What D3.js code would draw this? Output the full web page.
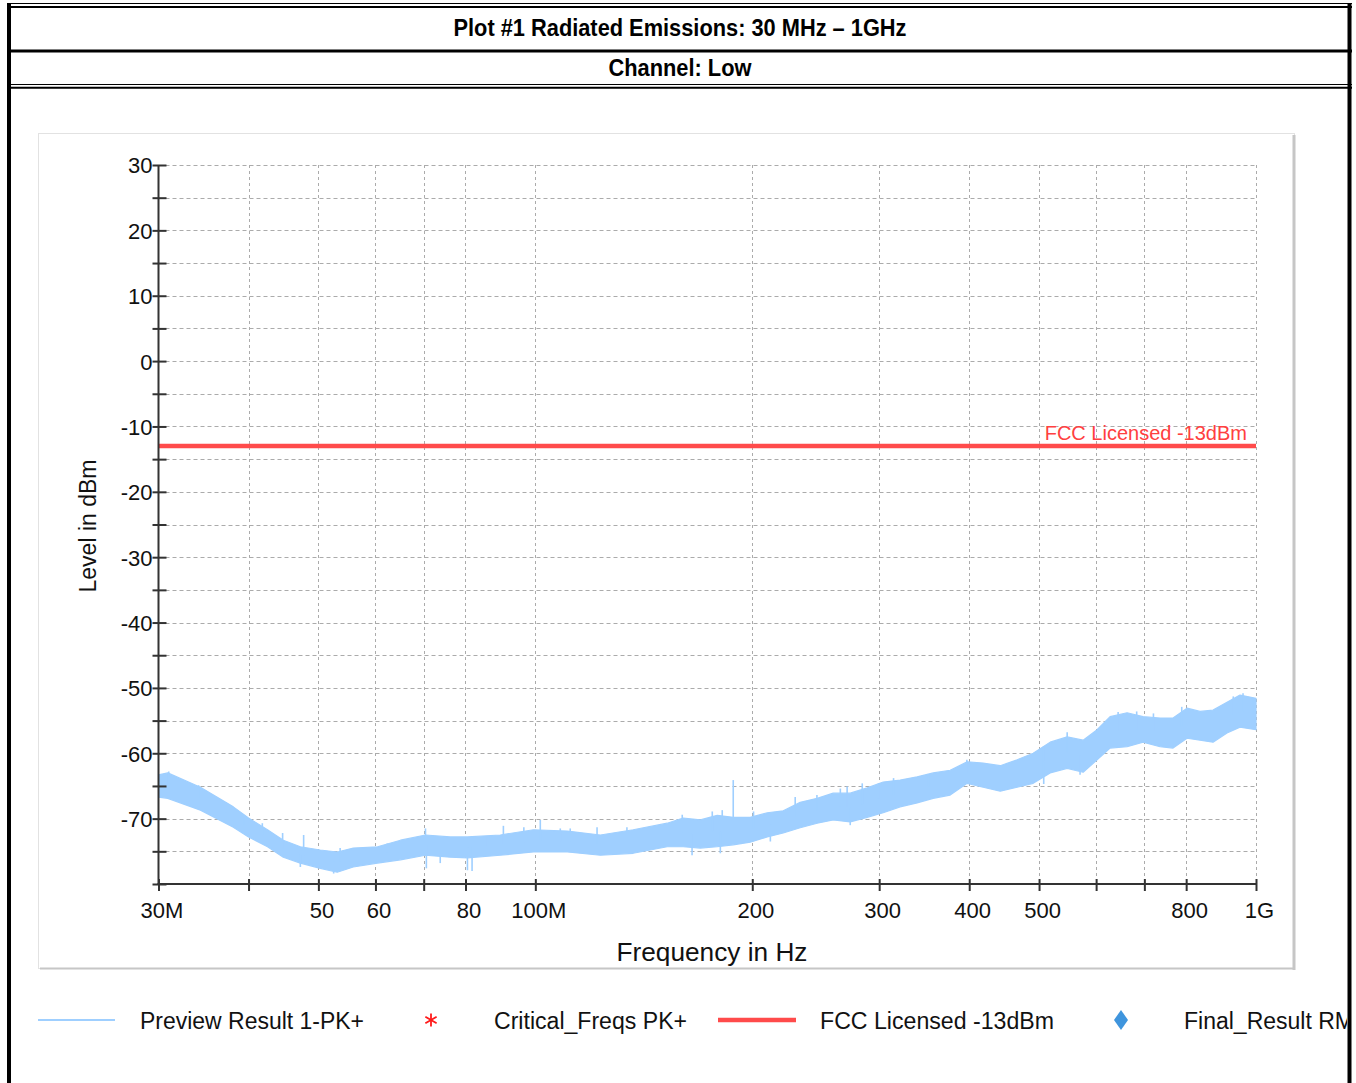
<!DOCTYPE html>
<html><head><meta charset="utf-8">
<script src="https://cdn.jsdelivr.net/npm/d3@7"></script>
<style>
html,body{margin:0;padding:0;background:#fff;}
svg{display:block;}
text{font-family:"Liberation Sans",Arial,Helvetica,sans-serif;}
</style></head>
<body>
<svg id="c" width="1356" height="1083"></svg>
<script>
// ---------- data ----------
const title = "Plot #1 Radiated Emissions: 30 MHz \u2013 1GHz";
const subtitle = "Channel: Low";
const yLabel = "Level in dBm";
const xLabel = "Frequency in Hz";

// Preview Result 1-PK+ trace: frequency (MHz) with upper / lower envelope of the noisy trace (dBm)
const freqMHz = [30, 30.9, 34.3, 38.1, 40.0, 42.5, 44.7, 47.2, 50.3, 53.1, 55.9, 60.4, 65.0, 70.4, 76.2, 80.5, 89.4, 99.4, 110.8, 123.1, 136.7, 152.4, 160.4, 169.4, 178.8, 188.2, 198.7, 209.8, 220.8, 233.1, 246.1, 259.0, 273.5, 288.7, 303.9, 320.8, 338.7, 356.5, 376.4, 397.4, 418.2, 441.7, 466.2, 490.7, 518.1, 547.0, 575.6, 601.9, 627.4, 662.4, 697.1, 736.0, 767.2, 802.2, 836.2, 871.7, 911.5, 950.2, 1000];
const upperDb = [-63.3, -63.0, -65.2, -68.2, -69.9, -71.7, -73.3, -74.3, -74.8, -75.1, -74.5, -74.3, -73.3, -72.5, -72.8, -72.8, -72.5, -71.7, -71.9, -72.5, -71.7, -70.7, -69.9, -70.2, -69.5, -69.8, -69.8, -69.1, -68.8, -67.5, -66.9, -66.1, -66.1, -65.3, -64.4, -64.1, -63.6, -63.0, -62.6, -61.3, -61.5, -61.9, -61.0, -60.0, -58.3, -57.5, -58.0, -56.4, -54.4, -53.8, -54.4, -54.6, -54.6, -53.1, -53.6, -53.4, -52.2, -51.1, -51.6];
const lowerDb = [-66.7, -66.9, -68.7, -71.3, -72.8, -74.3, -75.9, -76.8, -77.6, -78.2, -77.4, -76.8, -76.3, -75.6, -75.9, -76.0, -75.6, -75.1, -75.1, -75.6, -75.3, -74.3, -74.3, -74.5, -74.3, -74.0, -73.6, -72.8, -72.2, -71.4, -70.7, -70.2, -70.5, -69.8, -69.1, -68.2, -67.6, -66.9, -66.4, -64.6, -65.2, -65.8, -65.2, -64.6, -63.0, -62.3, -62.9, -61.0, -59.2, -59.0, -58.3, -59.0, -59.2, -57.7, -58.0, -58.3, -56.9, -56.0, -56.4];
// isolated spikes of the trace poking out of the band (MHz, dBm)
const spikeFreq = [31.0, 34.1, 37.2, 39.4, 41.8, 44.6, 47.2, 47.7, 52.5, 53.6, 62.3, 67.4, 70.4, 70.6, 73.8, 80.5, 81.7, 85.7, 90.3, 96.4, 101.6, 108.3, 111.8, 121.8, 134.0, 159.9, 165.0, 176.0, 180.6, 181.7, 188.2, 200.8, 211.9, 229.4, 245.9, 265.0, 270.8, 273.5, 284.2, 299.4, 314.1, 351.3, 397.0, 507.0, 507.5, 547.0, 570.0, 643.7, 683.0, 720.6, 788.8, 930.0, 959.4, 990.0];
const spikeDb   = [-62.8, -64.9, -67.5, -69.8, -70.7, -72.2, -77.4, -72.5, -78.4, -74.5, -73.8, -73.0, -71.5, -77.6, -76.8, -77.9, -78.0, -72.8, -71.1, -71.3, -70.2, -71.5, -71.5, -71.3, -71.3, -69.4, -75.6, -68.9, -75.3, -68.7, -64.1, -68.9, -73.5, -66.7, -66.4, -65.4, -65.1, -71.0, -64.6, -64.6, -63.8, -63.2, -61.0, -59.0, -64.7, -56.8, -63.3, -53.7, -53.6, -53.9, -52.9, -51.3, -50.8, -51.5];

// Limit line
const limitDb = -13;
const limitLabel = "FCC Licensed -13dBm";

// Axis ticks
const yTicks = [-80, -75, -70, -65, -60, -55, -50, -45, -40, -35, -30, -25, -20, -15, -10, -5, 0, 5, 10, 15, 20, 25, 30];
const yTickLabels = [-70, -60, -50, -40, -30, -20, -10, 0, 10, 20, 30];
const xTicks = [30, 40, 50, 60, 70, 80, 100, 200, 300, 400, 500, 600, 700, 800, 1000];
const xTickLabelValues = [30, 50, 60, 80, 100, 200, 300, 400, 500, 800, 1000];
const xTickLabelTexts  = ["30M", "50", "60", "80", "100M", "200", "300", "400", "500", "800", "1G"];

// Legend
const legendNames = ["Preview Result 1-PK+", "Critical_Freqs PK+", "FCC Licensed -13dBm", "Final_Result RMS"];

// ---------- drawing ----------
const svg = d3.select("#c");
svg.append("rect").attr("width",1356).attr("height",1083).attr("fill","#fff");

// outer frame / table
const frame = svg.append("g").attr("stroke","#000").attr("fill","none");
frame.append("line").attr("x1",7).attr("x2",1352).attr("y1",3.5).attr("y2",3.5).attr("stroke-width",1);
frame.append("line").attr("x1",7).attr("x2",1352).attr("y1",7).attr("y2",7).attr("stroke-width",2);
frame.append("line").attr("x1",7).attr("x2",1352).attr("y1",51).attr("y2",51).attr("stroke-width",3);
frame.append("line").attr("x1",7).attr("x2",1352).attr("y1",84.5).attr("y2",84.5).attr("stroke-width",1);
frame.append("line").attr("x1",7).attr("x2",1352).attr("y1",87.8).attr("y2",87.8).attr("stroke-width",2);
frame.append("line").attr("x1",9).attr("x2",9).attr("y1",3).attr("y2",1083).attr("stroke-width",4);
frame.append("line").attr("x1",1349.5).attr("x2",1349.5).attr("y1",3).attr("y2",1083).attr("stroke-width",4);

const narrow = '"Liberation Sans Narrow","Arial Narrow","Liberation Sans",Arial,sans-serif';
svg.append("text").text(title).attr("x",680).attr("y",36).attr("text-anchor","middle")
  .style("font-family",narrow).attr("font-weight","bold").attr("font-size",23)
  .attr("textLength",453).attr("lengthAdjust","spacingAndGlyphs");
svg.append("text").text(subtitle).attr("x",680).attr("y",75.5).attr("text-anchor","middle")
  .style("font-family",narrow).attr("font-weight","bold").attr("font-size",23)
  .attr("textLength",143).attr("lengthAdjust","spacingAndGlyphs");

// chart panel
svg.append("rect").attr("x",38.5).attr("y",133.5).attr("width",1256).attr("height",835)
  .attr("fill","#fff").attr("stroke","#e2e2e2").attr("stroke-width",1);
svg.append("line").attr("x1",1294).attr("x2",1294).attr("y1",135).attr("y2",970).attr("stroke","#c6c6c6").attr("stroke-width",3);
svg.append("line").attr("x1",40).attr("x2",1295).attr("y1",968.5).attr("y2",968.5).attr("stroke","#c6c6c6").attr("stroke-width",2);

const x0 = 158.5, x1 = 1256, yTop = 165, yBot = 884;
const x = d3.scaleLog().domain([30,1000]).range([x0,x1]);
const y = d3.scaleLinear().domain([-80,30]).range([yBot,yTop]);

// grid
const grid = svg.append("g").attr("stroke","#ababab").attr("stroke-width",1).attr("fill","none");
grid.selectAll("line.h").data(yTicks.filter(d=>d>-80)).join("line").attr("class","h")
  .attr("x1",x0).attr("x2",x1).attr("y1",d=>Math.round(y(d))+0.5).attr("y2",d=>Math.round(y(d))+0.5)
  .attr("stroke-dasharray","4,3");
grid.selectAll("line.v").data(xTicks.filter(d=>d>30)).join("line").attr("class","v")
  .attr("x1",d=>Math.round(x(d))+0.5).attr("x2",d=>Math.round(x(d))+0.5).attr("y1",yTop).attr("y2",yBot)
  .attr("stroke-dasharray","3,3");

// clip for data
svg.append("clipPath").attr("id","plotclip").append("rect")
  .attr("x",x0).attr("y",yTop).attr("width",x1-x0+1).attr("height",yBot-yTop);
const dataG = svg.append("g").attr("clip-path","url(#plotclip)");

const trace = freqMHz.map((f,i)=>({f, hi:upperDb[i], lo:lowerDb[i]}));
const area = d3.area().x(d=>x(d.f)).y0(d=>y(d.lo)).y1(d=>y(d.hi));
dataG.append("path").datum(trace).attr("d",area)
  .attr("fill","#9fcfff").attr("stroke","#9fcfff").attr("stroke-width",1.2).attr("stroke-linejoin","round");

const spikes = spikeFreq.map((f,i)=>({f, v:spikeDb[i]}));
const mid = d3.scaleLinear().domain(freqMHz).range(freqMHz.map((f,i)=>(upperDb[i]+lowerDb[i])/2));
dataG.selectAll("line.sp").data(spikes).join("line").attr("class","sp")
  .attr("x1",d=>x(d.f)).attr("x2",d=>x(d.f))
  .attr("y1",d=>y(mid(d.f))).attr("y2",d=>y(d.v))
  .attr("stroke","#9fcfff").attr("stroke-width",1.6);

// limit line
svg.append("line").attr("x1",x0).attr("x2",x1).attr("y1",y(limitDb)).attr("y2",y(limitDb))
  .attr("stroke","#ff4b4b").attr("stroke-width",4.5);
svg.append("text").text(limitLabel).attr("x",1247).attr("y",440).attr("text-anchor","end")
  .attr("font-size",20).attr("fill","#ff4040");

// axes
const yAxis = d3.axisLeft(y).tickValues(yTicks)
  .tickFormat(d => yTickLabels.includes(d) ? String(d) : "").tickSizeOuter(0);
const gy = svg.append("g").attr("transform",`translate(${x0},0)`).call(yAxis);
gy.select(".domain").attr("stroke","#333").attr("stroke-width",2).attr("d",`M0,${yTop}V${yBot}`);
gy.selectAll(".tick line").attr("x1",8).attr("x2",-6).attr("stroke","#333").attr("stroke-width",2);
gy.selectAll(".tick text").attr("x",-6).attr("dy","0.36em").attr("font-size",22).attr("fill","#111")
  .style("font-family",'"Liberation Sans",Arial,sans-serif');

const xAxis = d3.axisBottom(x).tickValues(xTicks)
  .tickFormat(d => { const k = xTickLabelValues.indexOf(d); return k>=0 ? xTickLabelTexts[k] : ""; })
  .tickSizeOuter(0);
const gx = svg.append("g").attr("transform",`translate(0,${yBot})`).call(xAxis);
gx.select(".domain").attr("stroke","#333").attr("stroke-width",2).attr("d",`M${x0-1},0H${x1+1}`);
gx.selectAll(".tick line").attr("y1",-5).attr("y2",7).attr("stroke","#333").attr("stroke-width",2);
gx.selectAll(".tick text").attr("y",34).attr("dy",0).attr("dx",3).attr("font-size",22).attr("fill","#111")
  .style("font-family",'"Liberation Sans",Arial,sans-serif');

// axis titles
svg.append("text").text(yLabel).attr("transform","translate(96,526) rotate(-90)")
  .attr("text-anchor","middle").attr("font-size",23).attr("fill","#111");
svg.append("text").text(xLabel).attr("x",712).attr("y",961).attr("text-anchor","middle")
  .attr("font-size",25).attr("fill","#111").attr("textLength",191).attr("lengthAdjust","spacingAndGlyphs");

// legend
svg.append("clipPath").attr("id","legclip").append("rect").attr("x",11).attr("y",990).attr("width",1336).attr("height",80);
const lg = svg.append("g").attr("clip-path","url(#legclip)");
const ly = 1020;
lg.append("line").attr("x1",38).attr("x2",115).attr("y1",ly).attr("y2",ly).attr("stroke","#9fcfff").attr("stroke-width",2);
// asterisk
const ast = lg.append("g").attr("transform",`translate(431,${ly})`).attr("stroke","#ff1a1a").attr("stroke-width",1.8);
[90,30,150].forEach(a=>{
  const r=6.5, t=a*Math.PI/180;
  ast.append("line").attr("x1",-r*Math.cos(t)).attr("y1",-r*Math.sin(t)).attr("x2",r*Math.cos(t)).attr("y2",r*Math.sin(t));
});
lg.append("line").attr("x1",718).attr("x2",796).attr("y1",ly).attr("y2",ly).attr("stroke","#ff4b4b").attr("stroke-width",4.5);
lg.append("path").attr("d","M1121,1010L1128,1020L1121,1030L1114,1020Z").attr("fill","#3f95dd");
const legX = [140, 494, 820, 1184];
const legW = [224, 193, 234, null];
legendNames.forEach((n,i)=>{
  const t = lg.append("text").text(n).attr("x",legX[i]).attr("y",ly+8.5).attr("font-size",23).attr("fill","#111");
  if (legW[i]) t.attr("textLength",legW[i]).attr("lengthAdjust","spacingAndGlyphs");
});
</script>
</body></html>
